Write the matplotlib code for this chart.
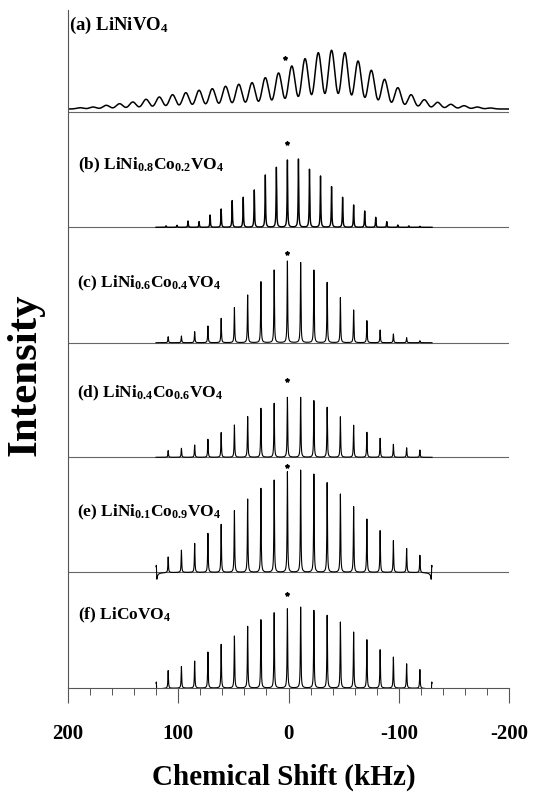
import numpy as np
import matplotlib.pyplot as plt
from matplotlib.ticker import MultipleLocator

plt.rcParams['font.family'] = 'Liberation Serif'
plt.rcParams['font.weight'] = 'bold'
plt.rcParams['mathtext.fontset'] = 'custom'
plt.rcParams['mathtext.rm'] = 'Liberation Serif:bold'
plt.rcParams['mathtext.it'] = 'Liberation Serif:bold'
plt.rcParams['mathtext.bf'] = 'Liberation Serif:bold'
plt.rcParams['axes.unicode_minus'] = False

# panel names, top to bottom
labels = [r'(a) LiNiVO$_4$',
          r'(b) LiNi$_{0.8}$Co$_{0.2}$VO$_4$',
          r'(c) LiNi$_{0.6}$Co$_{0.4}$VO$_4$',
          r'(d) LiNi$_{0.4}$Co$_{0.6}$VO$_4$',
          r'(e) LiNi$_{0.1}$Co$_{0.9}$VO$_4$',
          r'(f) LiCoVO$_4$']

# (a) broad sideband manifold (kHz, intensity)
a_shift = [189, 177, 165, 153, 141, 129, 117, 105, 93, 81, 69, 57, 45, 33, 21, 9,
           -3, -15, -27, -39, -51, -63, -75, -87, -99, -111, -123, -135, -147, -159, -171, -183]
a_height = [1.3, 2, 3.7, 5.3, 7, 9.7, 12, 14.3, 16.3, 18.7, 20.3, 22.7, 24.7, 26.3, 31.3, 36,
            43, 50.3, 56.3, 58.7, 56.3, 48, 38.7, 29.7, 21.3, 14.3, 9.3, 6.7, 4.7, 3.3, 2, 1]

# (b) sidebands at a slower spinning rate
b_shift = [111, 101, 91, 81, 71, 61, 51, 41, 31, 21, 11, 1,
           -9, -19, -29, -39, -49, -59, -69, -79, -89, -99, -109, -119]
b_height = [1.5, 2, 6.3, 5.7, 12.3, 18.3, 26.7, 30, 37.3, 52.3, 60, 67.3,
            68.3, 58, 51.3, 40.7, 30, 22.3, 16.3, 10, 5.7, 2.3, 1.5, 1]

# (c)-(f) share sideband positions
cf_shift = [109, 97, 85, 73, 61, 49, 37, 25, 13, 1,
            -11, -23, -35, -47, -59, -71, -83, -95, -107, -119]
c_height = [6, 6.7, 11, 16.7, 24.3, 35, 47.7, 61, 72.7, 81.7,
            80.3, 72.7, 60.3, 45, 32.7, 22, 12.7, 8.7, 5, 2]
d_height = [6.7, 9, 12.3, 18, 24.7, 32.3, 40.7, 49, 54, 60,
            60, 56.7, 50, 40.5, 32, 25, 19, 13, 9.5, 7.3]
e_height = [15.7, 22.3, 29, 39, 48, 61.7, 73.3, 84, 92.3, 100.7,
            102.3, 98.3, 89.7, 78.3, 65.7, 53.3, 41.7, 31.7, 24, 17.3]
f_height = [17.7, 21.7, 27, 36, 43.7, 52, 61.7, 68.3, 75.3, 79.3,
            81, 77.7, 72.7, 66, 56, 48.3, 38.3, 31, 24.3, 18.7]

# truncation glitches at the window edges (kHz, amplitude) for e and f
edge_shift = [119.5, -129.5]
e_edge = [7, -7]
f_edge = [6, -6]

# isotropic peak marker (kHz, height above baseline)
star_shift = [3, 1, 1, 1, 1, 1]
star_height = [51, 84, 90, 77, 106, 94]

fig = plt.figure(figsize=(5.48, 7.94), dpi=100)
ax = fig.add_axes([67.7 / 548, 1 - 688 / 794, (509.3 - 67.7) / 548, (688 - 10) / 794])
ax.set_xlim(200, -200)
ax.set_ylim(0, 678)

offsets = [579, 460.7, 345.3, 230.7, 115.7, 0]


def narrow(x, shifts, heights, hw=0.3):
    y = np.zeros_like(x)
    for s, h in zip(shifts, heights):
        y += h * hw ** 2 / ((x - s) ** 2 + hw ** 2)
    return y


def dispersive(x, shifts, amps, hw=0.25):
    y = np.zeros_like(x)
    for s, a in zip(shifts, amps):
        y += a * 2 * hw * (x - s) / ((x - s) ** 2 + hw ** 2)
    return y


# (a)
xa = np.linspace(200, -200, 4000)
ya = np.zeros_like(xa)
for s, h in zip(a_shift, a_height):
    ya += h * np.exp(-(xa - s) ** 2 / (2 * 3.0 ** 2))
ax.axhline(offsets[0] - 2.5, color='#666666', lw=0.8, zorder=1)
ax.plot(xa, offsets[0] + ya, color='black', lw=1.1)

# (b)-(f)
xs = np.linspace(120, -130, 10000)
panels = [(b_shift, b_height, None), (cf_shift, c_height, None), (cf_shift, d_height, None),
          (cf_shift, e_height, e_edge), (cf_shift, f_height, f_edge)]
for i, (sh, ht, edge) in enumerate(panels):
    off = offsets[i + 1]
    y = narrow(xs, sh, ht)
    if edge is not None:
        y += dispersive(xs, edge_shift, edge)
    if i < 4:
        ax.axhline(off, color='#666666', lw=0.8, zorder=1)
    ax.plot(xs, off + y, color='black', lw=1.0 if i == 0 else 0.8)

for sx, sy, off in zip(star_shift, star_height, offsets):
    ax.plot(sx, off + sy, marker='*', ms=3, color='black')

for s in ['top', 'right']:
    ax.spines[s].set_visible(False)
ax.spines['left'].set_color('#555555')
ax.spines['bottom'].set_color('#555555')
ax.set_yticks([])
ax.set_xticks([200, 100, 0, -100, -200])
ax.xaxis.set_minor_locator(MultipleLocator(20))
ax.tick_params(which='major', direction='out', length=11, width=0.8, pad=15,
               labelsize=15, color='#555555')
ax.tick_params(which='minor', direction='out', length=5, width=0.7, color='#555555')

label_xy = [(69, 25), (78, 165), (77, 283), (77, 393), (77, 512), (78, 615)]
label_size = [13.5, 12.5, 12.5, 12.5, 12.5, 12.5]
for lab, (px, py), fs in zip(labels, label_xy, label_size):
    fig.text(px / 548, 1 - py / 794, lab, fontsize=fs, ha='left', va='center')

fig.text(26 / 548, 1 - 375 / 794, 'Intensity', rotation=90, fontsize=31,
         ha='center', va='center')
fig.text(284 / 548, 1 - 777 / 794, 'Chemical Shift (kHz)', fontsize=21,
         ha='center', va='center')

fig.savefig('out.png', dpi=100)
